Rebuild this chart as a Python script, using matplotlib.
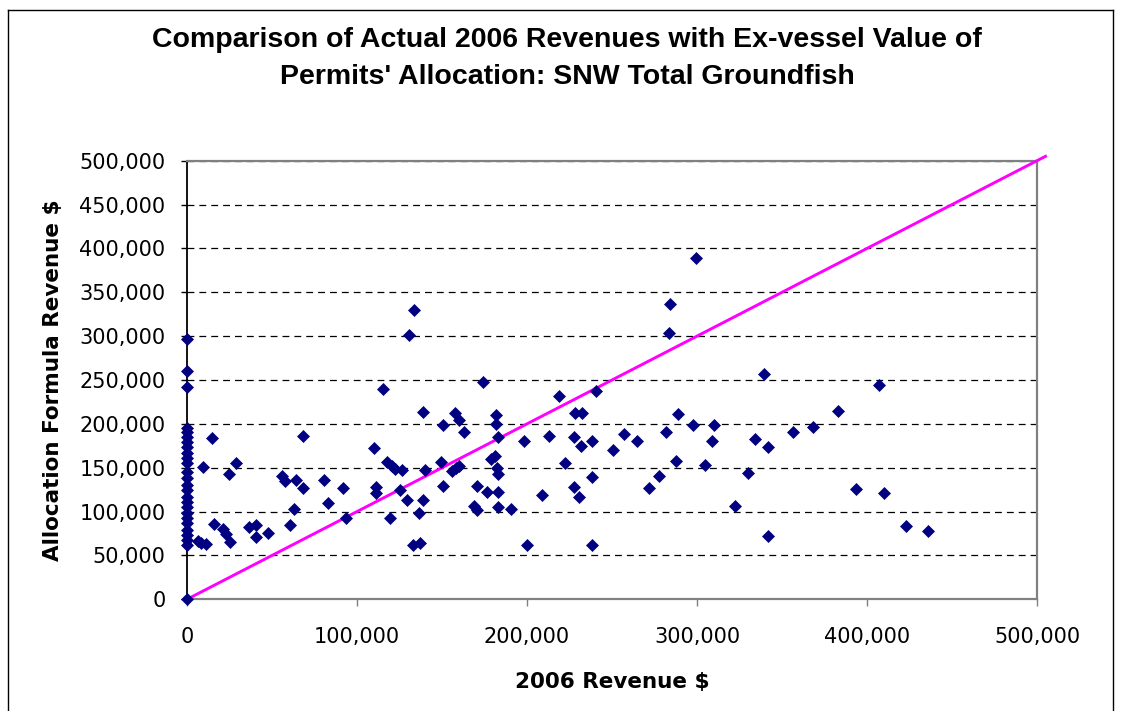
import matplotlib
matplotlib.use('Agg')
import matplotlib.pyplot as plt
from matplotlib.lines import Line2D
from matplotlib.ticker import FuncFormatter, MultipleLocator

# allocation value for permits with no 2006 revenue (x = 0)
zero_rev_alloc = [0, 62000, 67600, 73300, 79000, 86600, 92300, 98000, 105600,
                  111300, 117000, 124600, 130300, 137900, 145500, 155000, 160700,
                  166400, 174000, 179700, 185400, 191000, 195000, 241700, 260300,
                  296700]

# permits with 2006 revenue
revenue_2006 = [6500, 8500, 11000, 9600, 14900, 15900, 21400, 22900, 24500, 25500,
                28600, 36300, 40600, 40600, 47800, 55900, 57800, 60600, 62700, 63900,
                68000, 68000, 80600, 82900, 91900, 93300,
                110000, 111200, 111200, 115400, 117400, 119600, 120400, 122300, 125300,
                126200, 129400, 130400, 133500, 133100, 136800, 136600, 138600, 138700,
                140000, 149600, 150400, 150400, 156000, 157600, 158500, 160000, 160000,
                163000, 169000, 170600, 170400, 174400, 176700, 178900, 181300, 182000,
                182000, 182100, 183000, 183000, 183000, 183000, 190500, 198100, 200100,
                208600, 212700, 218900, 222100, 227400, 227400, 228100, 230700, 231800,
                232100, 238100, 238100, 238100, 240300, 250500, 257100, 264600, 271800,
                277400, 281500, 283400, 284400, 287700, 288700, 297400, 299300, 304600,
                308900, 309900, 322400, 330000, 334400, 339500, 341800, 341800, 356500,
                368000, 382800, 393400, 407300, 410200, 423200, 435700]
alloc_revenue = [67000, 64000, 63000, 151000, 184000, 86000, 80500, 75000, 143000, 65500,
                 155700, 82800, 84400, 71400, 75900, 140600, 135000, 84700, 102600, 135700,
                 186500, 127200, 135700, 110000, 127200, 92700,
                 172000, 127700, 120800, 240000, 157000, 92500, 152000, 148200, 125000,
                 147400, 113000, 301300, 329800, 61500, 63800, 98000, 113000, 213000,
                 147400, 156000, 198700, 129200, 146000, 212000, 149500, 152000, 204500,
                 190500, 106400, 102200, 129200, 248000, 122700, 160200, 163000, 210000,
                 200000, 149300, 143200, 184500, 122700, 104900, 102600, 180300, 61600,
                 118400, 186700, 231800, 155700, 184700, 127700, 212700, 116600, 174400,
                 212700, 180500, 139400, 61600, 237800, 170200, 188800, 180500, 127200,
                 140900, 190700, 303600, 336300, 158000, 211200, 199000, 389400, 153400,
                 180500, 198700, 106400, 143600, 182400, 256500, 174000, 72200, 190700,
                 196800, 215000, 125400, 244000, 120800, 83900, 77900]

# equal-value reference line
ref_line = [0, 505000]

title_lines = ["Comparison of Actual 2006 Revenues with Ex-vessel Value of",
               "Permits' Allocation: SNW Total Groundfish"]

W, H = 1133, 711
fig = plt.figure(figsize=(W / 100, H / 100), dpi=100)
ax = fig.add_axes([187 / W, 1 - 599.3 / H, 850 / W, 438.6 / H])

ax.set_xlim(0, 500000)
ax.set_ylim(0, 500000)

ax.yaxis.set_major_locator(MultipleLocator(50000))
ax.xaxis.set_major_locator(MultipleLocator(100000))
fmt = FuncFormatter(lambda v, p: '{:,.0f}'.format(v))
ax.xaxis.set_major_formatter(fmt)
ax.yaxis.set_major_formatter(fmt)

ax.grid(axis='y', color='black', linestyle=(0, (5.5, 4)), linewidth=0.9)
ax.set_axisbelow(True)

ax.plot(ref_line, ref_line, color='#FF00FF', lw=2.1, clip_on=False, zorder=3)

ax.plot([0] * len(zero_rev_alloc), zero_rev_alloc, 'D', color='#000080',
        ms=6.4, mew=0.5, clip_on=False, zorder=4)
ax.plot(revenue_2006, alloc_revenue, 'D', color='#000080',
        ms=6.4, mew=0.5, clip_on=False, zorder=4)

for side in ['top', 'right', 'bottom']:
    ax.spines[side].set_color('#808080')
    ax.spines[side].set_linewidth(1.6)
ax.spines['left'].set_color('black')
ax.spines['left'].set_linewidth(1.3)

ax.tick_params(axis='y', direction='out', length=4.5, width=1, color='black', pad=11,
               labelsize=15)
ax.tick_params(axis='x', direction='out', length=5, width=1, color='#808080', pad=15,
               labelsize=15)
for lab in ax.get_xticklabels() + ax.get_yticklabels():
    lab.set_fontfamily('DejaVu Sans')
    lab.set_color('black')

ax.set_xlabel('2006 Revenue $', fontsize=15.5, fontweight='bold',
              fontfamily='DejaVu Sans', labelpad=18)
ax.set_ylabel('Allocation Formula Revenue $', fontsize=15.5, fontweight='bold',
              fontfamily='DejaVu Sans', labelpad=12)

fig.text(567 / W, 1 - 40 / H, title_lines[0], ha='center', va='center',
         fontsize=20.5, fontweight='bold', fontfamily='Liberation Sans')
fig.text(567 / W, 1 - 77 / H, title_lines[1], ha='center', va='center',
         fontsize=20.5, fontweight='bold', fontfamily='Liberation Sans')

# chart area border (bottom edge falls outside the picture)
bl, br, bt = 8 / W, 1113 / W, 1 - 10 / H
fig.add_artist(Line2D([bl, bl], [0, bt], transform=fig.transFigure, color='black', lw=1))
fig.add_artist(Line2D([bl, br], [bt, bt], transform=fig.transFigure, color='black', lw=1))
fig.add_artist(Line2D([br, br], [bt, 0], transform=fig.transFigure, color='black', lw=1))

fig.savefig('out.png', dpi=100)
